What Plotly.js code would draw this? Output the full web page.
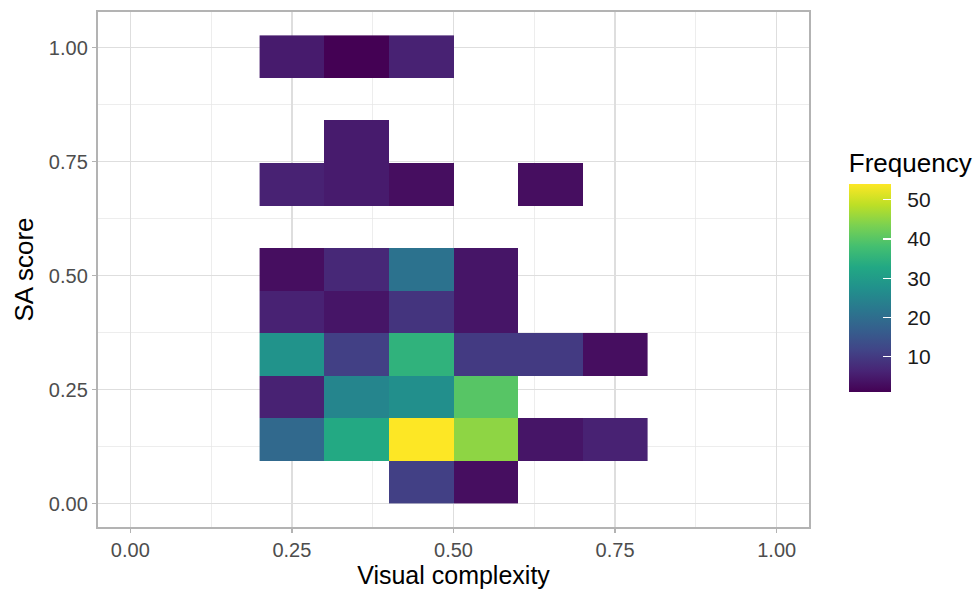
<!DOCTYPE html>
<html>
<head>
<meta charset="utf-8">
<script src="https://cdn.plot.ly/plotly-3.0.1.min.js"></script>
<style>html,body{margin:0;padding:0;background:#fff;}#chart{width:977px;height:590px;}</style>
</head>
<body>
<div id="chart"></div>
<script>
// Bin edges for Visual complexity (x) and SA score (y)
const xEdges = [0.2, 0.3, 0.4, 0.5, 0.6, 0.7, 0.8];
const yEdges = [0, 0.0933, 0.1867, 0.28, 0.3733, 0.4667, 0.56, 0.6533, 0.7467, 0.84, 0.9333, 1.0267];
// Frequency counts, rows from bottom (SA score low) to top, columns x bins
const row0  = [null, null, 11, 3, null, null];
const row1  = [19, 33, 54, 45, 4, 6];
const row2  = [6, 25, 27, 40, null, null];
const row3  = [28, 11, 35, 10, 10, 3];
const row4  = [6, 4, 9, 4, null, null];
const row5  = [3, 7, 21, 4, null, null];
const row6  = [null, null, null, null, null, null];
const row7  = [6, 5, 3, null, 3, null];
const row8  = [null, 5, null, null, null, null];
const row9  = [null, null, null, null, null, null];
const row10 = [5, 1, 6, null, null, null];
const freq = [row0, row1, row2, row3, row4, row5, row6, row7, row8, row9, row10];
const xTicks = [0, 0.25, 0.5, 0.75, 1];
const xTickText = ["0.00", "0.25", "0.50", "0.75", "1.00"];
const yTicks = [0, 0.25, 0.5, 0.75, 1];
const yTickText = ["0.00", "0.25", "0.50", "0.75", "1.00"];
const minorTicks = [0.125, 0.375, 0.625, 0.875];
const cbTicks = [10, 20, 30, 40, 50];

const FONT = 'Liberation Sans, Arial, sans-serif';
const viridis = [
  [0.0, '#440154'], [0.1, '#482475'], [0.2, '#414487'], [0.3, '#355F8D'],
  [0.4, '#2A788E'], [0.5, '#21918C'], [0.6, '#22A884'], [0.7, '#44BF70'],
  [0.8, '#7AD151'], [0.9, '#BDDF26'], [1.0, '#FDE725']
];

const trace = {
  type: 'heatmap',
  x: xEdges,
  y: yEdges,
  z: freq,
  zmin: 1,
  zmax: 54,
  colorscale: viridis,
  hoverongaps: false,
  xgap: 0, ygap: 0,
  colorbar: {
    title: {text: 'Frequency', side: 'top', font: {family: FONT, size: 26, color: '#000'}},
    thickness: 42,
    thicknessmode: 'pixels',
    len: 243,
    lenmode: 'pixels',
    x: 1.056,
    xanchor: 'left',
    xpad: 0,
    ypad: 0,
    y: 0.2621,
    yanchor: 'bottom',
    outlinewidth: 0,
    tickvals: cbTicks,
    ticktext: cbTicks.map(v => '\u00A0\u00A0' + v),
    ticks: 'inside',
    ticklen: 8,
    tickcolor: '#ffffff',
    tickwidth: 1.2,
    tickfont: {family: FONT, size: 21, color: '#1a1a1a'}
  }
};

const axisCommon = {
  showline: true, mirror: true, linecolor: '#B3B3B3', linewidth: 2.2,
  ticks: 'outside', ticklen: 4, tickcolor: '#B3B3B3', tickwidth: 1.3,
  showgrid: true, gridcolor: '#DEDEDE', gridwidth: 1.3,
  zeroline: false,
  tickfont: {family: FONT, size: 20, color: '#4D4D4D'},
  minor: {tickvals: minorTicks, showgrid: true, gridcolor: '#E6E6E6', gridwidth: 0.7, ticks: ''}
};

const layout = {
  width: 977, height: 590,
  margin: {l: 98, r: 168, t: 12, b: 63, autoexpand: false},
  paper_bgcolor: '#ffffff',
  plot_bgcolor: '#ffffff',
  font: {family: FONT},
  xaxis: Object.assign({}, axisCommon, {
    range: [-0.05, 1.05],
    tickvals: xTicks, ticktext: xTickText,
    title: {text: 'Visual complexity', font: {family: FONT, size: 25, color: '#000'}, standoff: 6}
  }),
  yaxis: Object.assign({}, axisCommon, {
    range: [-0.0513, 1.078],
    tickvals: yTicks, ticktext: yTickText,
    title: {text: 'SA score', font: {family: FONT, size: 26, color: '#000'}, standoff: 8}
  })
};

Plotly.newPlot('chart', [trace], layout, {displayModeBar: false, staticPlot: true});
</script>
</body>
</html>
